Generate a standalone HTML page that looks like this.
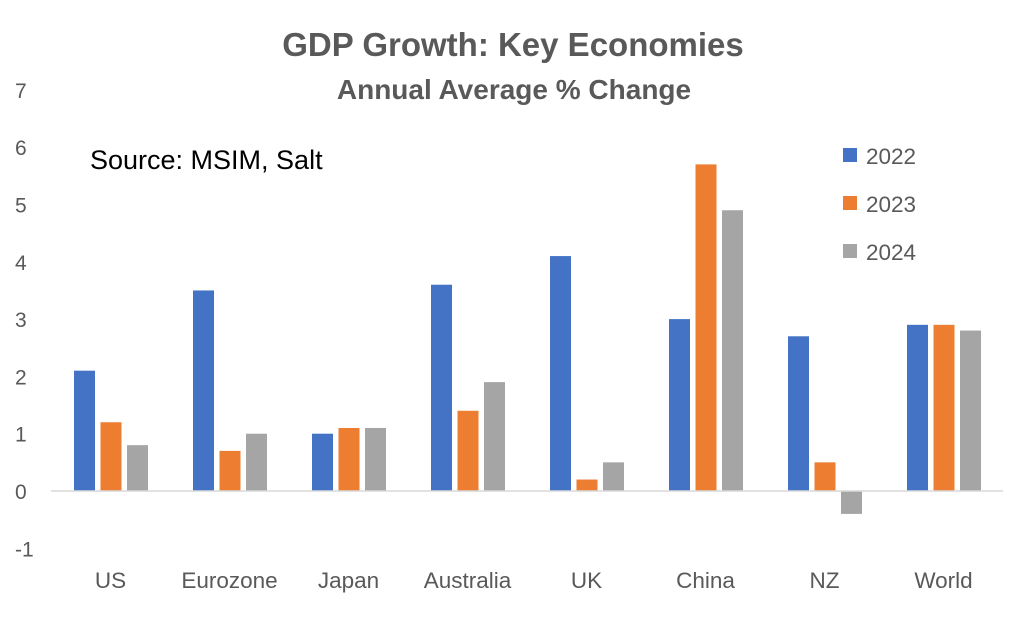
<!DOCTYPE html>
<html><head><meta charset="utf-8"><style>
body{margin:0;background:#fff;width:1034px;height:614px;overflow:hidden;font-family:"Liberation Sans",sans-serif}
</style></head><body>
<svg id="chart" width="1034" height="614" xmlns="http://www.w3.org/2000/svg">
<text x="513" y="56" text-anchor="middle" font-size="33" font-weight="bold" fill="#595959">GDP Growth: Key Economies</text>
<text x="514" y="99" text-anchor="middle" font-size="28" font-weight="bold" fill="#595959">Annual Average % Change</text>
<text x="90" y="169" font-size="27" fill="#000">Source: MSIM, Salt</text>
<g id="yticks"></g><g id="bars"></g><g id="xlabels"></g><g id="legend"></g>
</svg>
<script>
const categories=["US","Eurozone","Japan","Australia","UK","China","NZ","World"];
const series=["2022","2023","2024"];
const v2022=[2.1,3.5,1.0,3.6,4.1,3.0,2.7,2.9];
const v2023=[1.2,0.7,1.1,1.4,0.2,5.7,0.5,2.9];
const v2024=[0.8,1.0,1.1,1.9,0.5,4.9,-0.4,2.8];
const yTicks=[-1,0,1,2,3,4,5,6,7];
const colors=["#4472C4","#ED7D31","#A5A5A5"];
const vals=[v2022,v2023,v2024];
const NS="http://www.w3.org/2000/svg";
const y0=491, unit=57.3, x0=51, step=119;
const y=v=>y0-v*unit;
const xc=i=>x0+step*(i+0.5);
function mk(t,a,p){const e=document.createElementNS(NS,t);for(const k in a)e.setAttribute(k,a[k]);p.appendChild(e);return e;}
const yt=document.getElementById('yticks');
yTicks.forEach(t=>{const e=mk('text',{x:15,y:y(t)+8,'font-size':21,fill:'#595959'},yt);e.textContent=t;

});
const bars=document.getElementById('bars');
vals.forEach((arr,s)=>arr.forEach((v,i)=>{const bx=xc(i)-36.5+s*26.5;
const r=mk('rect',{x:bx,y:Math.min(y(v),y0),width:21,height:Math.abs(v*unit),fill:colors[s]},bars);

}));
const ax=mk('line',{x1:x0,x2:x0+step*8,y1:y0,y2:y0,stroke:'#D9D9D9','stroke-width':1.5},bars);


const xl=document.getElementById('xlabels');
categories.forEach((c,i)=>{const e=mk('text',{x:xc(i),y:588,'text-anchor':'middle','font-size':22.5,fill:'#595959'},xl);e.textContent=c;

});
const lg=document.getElementById('legend');
series.forEach((s,k)=>{const g=mk('g',{},lg);


mk('rect',{x:843,y:148+k*48,width:14,height:14,fill:colors[k]},g);
const t=mk('text',{x:866,y:164+k*48,'font-size':22.5,fill:'#595959'},g);t.textContent=s;});
</script>
</body></html>
